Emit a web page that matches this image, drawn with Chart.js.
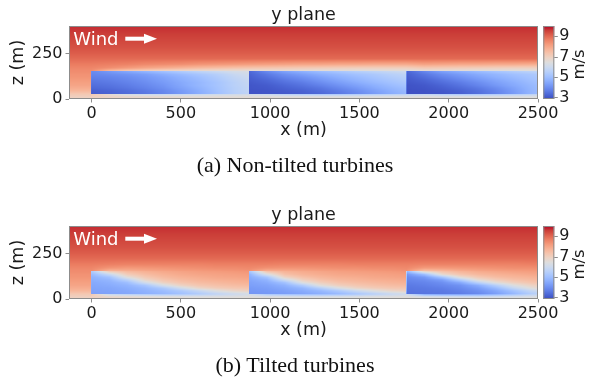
<!DOCTYPE html>
<html>
<head>
<meta charset="utf-8">
<script src="https://cdn.jsdelivr.net/npm/chart.js@4.4.0/dist/chart.umd.min.js"></script>
<style>
  html, body { margin: 0; padding: 0; background: #fff; width: 590px; height: 379px; overflow: hidden; position: relative; }
  canvas { position: absolute; left: 0; }
  #panelA { top: 0; }
  #panelB { top: 200px; }
  .caption { position: absolute; left: 0; width: 590px; text-align: center;
             font-family: "Liberation Serif", "Times New Roman", serif; font-size: 22px; line-height: 22px; color: #111; }
</style>
</head>
<body>
<canvas id="panelA" width="590" height="200"></canvas>
<canvas id="panelB" width="590" height="200"></canvas>
<div class="caption" style="top:154px">(a) Non-tilted turbines</div>
<div class="caption" style="top:354px">(b) Tilted turbines</div>
<script>
// Axis ranges and ticks
const xRange = [-126, 2500];          // streamwise position (m)
const zRange = [0, 400];              // height (m)
const speedRange = [2.85, 10.0];      // colour scale (m/s)
const xTicks = [0, 500, 1000, 1500, 2000, 2500];
const zTicks = [0, 250];
const speedTicks = [3, 5, 7, 9];

// Turbine positions along x (m)
const turbineX = [0, 882, 1764];

// Grid heights (m) shared by the inflow profile and the wake tables
const zRows = [0, 12, 26, 28, 45, 60, 75, 90, 105, 120, 135, 152, 154, 170, 190, 220, 250, 280, 310, 340, 370, 400];

// Undisturbed inflow speed at each height (m/s)
const inflow = [6.85, 7.0, 7.2, 7.25, 7.65, 7.85, 8.0, 8.1, 8.2, 8.3, 8.35, 8.45, 8.45, 8.55, 8.7, 8.95, 9.15, 9.3, 9.4, 9.5, 9.6, 9.7];

// Distance downstream of each turbine (m) for the wake table columns
const wakeDx = [0, 100, 200, 300, 400, 500, 600, 700, 800, 881];

// Wake speeds (m/s), rows = zRows[0..14], columns = wakeDx
// (a) non-tilted turbines
const wakeA1 = [
  [6.85, 6.8, 6.75, 6.7, 6.7, 6.65, 6.6, 6.6, 6.55, 6.55],
  [7.0, 6.9, 6.8, 6.75, 6.7, 6.65, 6.6, 6.6, 6.55, 6.55],
  [7.2, 6.6, 6.2, 6.0, 5.9, 5.9, 5.95, 6.0, 6.05, 6.1],
  [3.1, 3.2, 3.35, 3.55, 3.8, 4.15, 4.55, 5.0, 5.45, 5.7],
  [3.15, 3.25, 3.4, 3.6, 3.85, 4.2, 4.6, 5.05, 5.5, 5.75],
  [3.3, 3.4, 3.55, 3.75, 4.0, 4.35, 4.7, 5.1, 5.5, 5.75],
  [3.4, 3.5, 3.65, 3.85, 4.1, 4.45, 4.8, 5.15, 5.55, 5.8],
  [3.5, 3.6, 3.75, 3.95, 4.2, 4.5, 4.8, 5.15, 5.55, 5.85],
  [3.6, 3.7, 3.85, 4.05, 4.3, 4.6, 4.9, 5.25, 5.65, 5.9],
  [3.7, 3.8, 3.95, 4.15, 4.4, 4.7, 5.0, 5.35, 5.75, 6.0],
  [3.8, 3.95, 4.1, 4.3, 4.6, 4.9, 5.2, 5.5, 5.9, 6.1],
  [3.9, 4.2, 4.5, 4.8, 5.1, 5.4, 5.7, 5.95, 6.2, 6.3],
  [8.45, 7.6, 7.2, 7.0, 6.85, 6.75, 6.65, 6.6, 6.55, 6.55],
  [8.55, 8.4, 8.2, 8.0, 7.85, 7.7, 7.55, 7.45, 7.35, 7.3],
  [8.7, 8.65, 8.6, 8.5, 8.45, 8.4, 8.3, 8.25, 8.2, 8.15]
];
const wakeA2 = [
  [6.55, 6.55, 6.55, 6.55, 6.5, 6.5, 6.5, 6.5, 6.5, 6.5],
  [6.55, 6.55, 6.5, 6.5, 6.5, 6.45, 6.45, 6.45, 6.45, 6.45],
  [6.1, 5.9, 5.6, 5.4, 5.3, 5.3, 5.35, 5.45, 5.55, 5.65],
  [2.95, 3.0, 3.05, 3.15, 3.3, 3.55, 3.85, 4.2, 4.55, 4.8],
  [2.95, 3.0, 3.1, 3.2, 3.4, 3.65, 3.95, 4.3, 4.65, 4.9],
  [3.0, 3.05, 3.2, 3.35, 3.55, 3.85, 4.15, 4.5, 4.8, 5.0],
  [3.0, 3.1, 3.3, 3.5, 3.75, 4.05, 4.35, 4.65, 4.95, 5.15],
  [3.05, 3.2, 3.45, 3.65, 3.95, 4.25, 4.55, 4.85, 5.1, 5.3],
  [3.1, 3.3, 3.6, 3.85, 4.15, 4.45, 4.75, 5.0, 5.25, 5.45],
  [3.15, 3.45, 3.8, 4.05, 4.35, 4.65, 4.9, 5.15, 5.4, 5.55],
  [3.2, 3.6, 4.0, 4.3, 4.6, 4.85, 5.1, 5.3, 5.55, 5.7],
  [3.3, 3.9, 4.4, 4.7, 5.0, 5.25, 5.5, 5.7, 5.9, 6.05],
  [6.55, 6.6, 6.6, 6.55, 6.5, 6.5, 6.45, 6.45, 6.45, 6.45],
  [7.3, 7.25, 7.2, 7.15, 7.1, 7.05, 7.0, 7.0, 7.0, 7.0],
  [8.15, 8.1, 8.05, 8.0, 8.0, 7.95, 7.95, 7.9, 7.9, 7.9]
];
const wakeA3 = [
  [6.5, 6.55, 6.5, 6.5, 6.5, 6.5, 6.5, 6.5, 6.5, 6.5],
  [6.45, 6.5, 6.45, 6.45, 6.4, 6.4, 6.4, 6.4, 6.4, 6.4],
  [5.65, 5.8, 5.5, 5.3, 5.3, 5.35, 5.45, 5.6, 5.75, 5.85],
  [2.9, 2.95, 3.0, 3.15, 3.4, 3.75, 4.2, 4.75, 5.15, 5.35],
  [2.9, 2.95, 3.05, 3.2, 3.45, 3.8, 4.25, 4.75, 5.15, 5.35],
  [2.95, 3.0, 3.15, 3.35, 3.6, 3.95, 4.35, 4.8, 5.15, 5.35],
  [2.95, 3.05, 3.25, 3.5, 3.8, 4.15, 4.5, 4.85, 5.15, 5.35],
  [3.0, 3.15, 3.4, 3.65, 3.95, 4.3, 4.6, 4.95, 5.2, 5.4],
  [3.05, 3.25, 3.55, 3.85, 4.15, 4.45, 4.75, 5.05, 5.3, 5.45],
  [3.1, 3.4, 3.75, 4.05, 4.35, 4.65, 4.9, 5.15, 5.4, 5.55],
  [3.15, 3.55, 3.95, 4.25, 4.55, 4.8, 5.05, 5.25, 5.5, 5.65],
  [3.25, 3.85, 4.35, 4.65, 4.95, 5.2, 5.45, 5.65, 5.85, 6.0],
  [6.45, 6.55, 6.55, 6.5, 6.45, 6.45, 6.4, 6.4, 6.4, 6.4],
  [7.0, 7.2, 7.15, 7.1, 7.05, 7.0, 6.95, 6.95, 6.95, 6.95],
  [7.9, 8.05, 8.0, 7.95, 7.95, 7.9, 7.9, 7.85, 7.85, 7.85]
];
// (b) tilted turbines
const wakeB1 = [
  [6.85, 6.8, 6.75, 6.7, 6.7, 6.65, 6.6, 6.6, 6.6, 6.6],
  [7.0, 6.8, 6.7, 6.6, 6.5, 6.45, 6.4, 6.4, 6.4, 6.45],
  [7.2, 5.9, 5.6, 5.4, 5.3, 5.35, 5.5, 5.75, 6.0, 6.2],
  [4.3, 4.35, 4.45, 4.6, 4.8, 5.05, 5.35, 5.7, 6.0, 6.2],
  [4.35, 4.4, 4.5, 4.7, 4.95, 5.3, 5.8, 6.4, 6.8, 6.95],
  [4.4, 4.45, 4.6, 4.85, 5.3, 6.1, 6.8, 7.1, 7.25, 7.3],
  [4.45, 4.55, 4.75, 5.2, 6.2, 6.9, 7.25, 7.4, 7.5, 7.55],
  [4.5, 4.65, 5.0, 6.1, 6.9, 7.3, 7.5, 7.6, 7.7, 7.75],
  [4.6, 4.8, 5.6, 6.8, 7.3, 7.55, 7.7, 7.8, 7.85, 7.9],
  [4.7, 5.1, 6.5, 7.2, 7.55, 7.75, 7.85, 7.95, 8.0, 8.05],
  [4.9, 5.9, 7.1, 7.5, 7.75, 7.9, 8.0, 8.05, 8.1, 8.15],
  [5.3, 7.2, 7.6, 7.8, 7.95, 8.05, 8.15, 8.2, 8.25, 8.3],
  [8.45, 7.7, 7.8, 7.95, 8.05, 8.15, 8.2, 8.25, 8.3, 8.35],
  [8.55, 8.3, 8.2, 8.25, 8.3, 8.35, 8.4, 8.45, 8.45, 8.5],
  [8.7, 8.65, 8.6, 8.6, 8.6, 8.6, 8.6, 8.65, 8.65, 8.65]
];
const wakeB2 = [
  [6.6, 6.6, 6.6, 6.55, 6.55, 6.55, 6.55, 6.55, 6.55, 6.55],
  [6.45, 6.4, 6.35, 6.3, 6.3, 6.3, 6.35, 6.4, 6.4, 6.45],
  [6.2, 5.3, 5.1, 5.0, 5.0, 5.1, 5.3, 5.6, 5.9, 6.1],
  [4.1, 4.15, 4.25, 4.4, 4.6, 4.85, 5.2, 5.55, 5.9, 6.1],
  [4.15, 4.2, 4.35, 4.55, 4.85, 5.3, 5.9, 6.4, 6.8, 6.95],
  [4.2, 4.3, 4.5, 4.8, 5.5, 6.3, 6.85, 7.1, 7.25, 7.3],
  [4.3, 4.4, 4.7, 5.4, 6.5, 7.0, 7.25, 7.4, 7.5, 7.55],
  [4.35, 4.55, 5.1, 6.4, 7.0, 7.35, 7.5, 7.6, 7.7, 7.75],
  [4.45, 4.75, 6.0, 7.0, 7.4, 7.6, 7.7, 7.8, 7.85, 7.9],
  [4.55, 5.2, 6.9, 7.4, 7.65, 7.8, 7.85, 7.95, 8.0, 8.05],
  [4.7, 6.3, 7.4, 7.7, 7.85, 7.95, 8.0, 8.05, 8.1, 8.15],
  [5.2, 7.4, 7.75, 7.9, 8.0, 8.1, 8.15, 8.2, 8.25, 8.3],
  [8.35, 7.8, 7.9, 8.0, 8.1, 8.15, 8.2, 8.25, 8.3, 8.35],
  [8.5, 8.35, 8.3, 8.3, 8.35, 8.4, 8.4, 8.45, 8.45, 8.5],
  [8.65, 8.65, 8.6, 8.6, 8.6, 8.6, 8.65, 8.65, 8.65, 8.65]
];
const wakeB3 = [
  [6.55, 6.6, 6.6, 6.55, 6.5, 6.5, 6.5, 6.5, 6.5, 6.5],
  [6.45, 6.3, 6.2, 6.1, 6.05, 6.1, 6.2, 6.3, 6.4, 6.45],
  [6.1, 4.6, 4.4, 4.35, 4.4, 4.7, 5.1, 5.6, 5.9, 6.05],
  [3.45, 3.5, 3.55, 3.65, 3.85, 4.25, 4.8, 5.4, 5.8, 6.0],
  [3.5, 3.55, 3.6, 3.75, 4.0, 4.45, 5.1, 5.8, 6.3, 6.5],
  [3.55, 3.6, 3.7, 3.9, 4.25, 4.9, 5.8, 6.5, 6.9, 7.05],
  [3.6, 3.7, 3.85, 4.05, 4.6, 5.5, 6.4, 6.9, 7.15, 7.3],
  [3.7, 3.8, 4.0, 4.5, 5.6, 6.5, 7.0, 7.3, 7.45, 7.55],
  [3.8, 3.95, 4.3, 5.4, 6.6, 7.1, 7.4, 7.55, 7.65, 7.75],
  [3.9, 4.2, 5.2, 6.6, 7.2, 7.5, 7.65, 7.75, 7.85, 7.9],
  [4.1, 5.0, 6.7, 7.3, 7.6, 7.75, 7.85, 7.95, 8.0, 8.05],
  [4.8, 6.9, 7.4, 7.7, 7.9, 8.0, 8.1, 8.15, 8.2, 8.25],
  [8.35, 7.4, 7.6, 7.85, 8.0, 8.1, 8.15, 8.2, 8.25, 8.3],
  [8.5, 8.2, 8.2, 8.25, 8.3, 8.35, 8.4, 8.4, 8.45, 8.5],
  [8.65, 8.6, 8.6, 8.6, 8.6, 8.6, 8.6, 8.65, 8.65, 8.65]
];

// Diverging blue-white-red colour map, 17 evenly spaced stops
const coolwarm = [
  [59, 76, 192], [77, 104, 215], [98, 130, 234], [119, 154, 247], [141, 176, 254],
  [163, 194, 255], [184, 208, 249], [204, 217, 238], [221, 221, 221], [236, 211, 197],
  [245, 196, 173], [247, 177, 148], [244, 154, 123], [236, 127, 99], [222, 96, 77],
  [203, 62, 56], [180, 4, 38]
];

const TICK_FONT = { family: 'DejaVu Sans', size: 16, weight: 'normal' };
const LABEL_FONT = { family: 'DejaVu Sans', size: 17.5, weight: 'normal', lineHeight: 1 };
const TEXT = '#1a1a1a';
const SPINE = '#8c8c8c';

function colourFor(v) {
  let t = (v - speedRange[0]) / (speedRange[1] - speedRange[0]);
  t = Math.min(1, Math.max(0, t));
  const p = t * (coolwarm.length - 1);
  const i = Math.min(coolwarm.length - 2, Math.floor(p));
  const f = p - i;
  const a = coolwarm[i], b = coolwarm[i + 1];
  return [a[0] + (b[0] - a[0]) * f, a[1] + (b[1] - a[1]) * f, a[2] + (b[2] - a[2]) * f];
}

// Assemble a rectilinear grid: upstream columns use the inflow profile,
// every turbine contributes one column per wakeDx entry.
function buildField(wakes) {
  const xs = [xRange[0], -1];
  const cols = [inflow.slice(), inflow.slice()];
  turbineX.forEach((tx, k) => {
    wakeDx.forEach((dx, c) => {
      xs.push(tx + dx);
      cols.push(zRows.map((z, r) => (r < wakes[k].length ? wakes[k][r][c] : inflow[r])));
    });
  });
  return { xs, cols };
}

function locate(arr, v) {
  let i = 0;
  while (i < arr.length - 2 && v > arr[i + 1]) i++;
  const f = (v - arr[i]) / (arr[i + 1] - arr[i]);
  return [i, Math.max(0, Math.min(1, f))];
}

function sample(field, x, z) {
  const [i, fx] = locate(field.xs, x);
  const [j, fz] = locate(zRows, z);
  const c0 = field.cols[i], c1 = field.cols[i + 1];
  const a = c0[j] + (c0[j + 1] - c0[j]) * fz;
  const b = c1[j] + (c1[j + 1] - c1[j]) * fz;
  return a + (b - a) * fx;
}

function fieldPlugin(field) {
  return {
    id: 'speedField',
    beforeDatasetsDraw(chart) {
      const { ctx, chartArea } = chart;
      const { left, top, right, bottom } = chartArea;
      const xs = chart.scales.x, ys = chart.scales.y;
      const x0 = Math.floor(left), y0 = Math.floor(top);
      const w = Math.ceil(right) - x0, h = Math.ceil(bottom) - y0;
      const off = document.createElement('canvas');
      off.width = w; off.height = h;
      const octx = off.getContext('2d');
      const img = octx.createImageData(w, h);
      const zVals = [];
      for (let j = 0; j < h; j++) zVals.push(ys.getValueForPixel(y0 + j + 0.5));
      for (let i = 0; i < w; i++) {
        const xv = xs.getValueForPixel(x0 + i + 0.5);
        for (let j = 0; j < h; j++) {
          const c = colourFor(sample(field, xv, zVals[j]));
          const k = (j * w + i) * 4;
          img.data[k] = c[0]; img.data[k + 1] = c[1]; img.data[k + 2] = c[2]; img.data[k + 3] = 255;
        }
      }
      octx.putImageData(img, 0, 0);
      ctx.save();
      ctx.beginPath();
      ctx.rect(left, top, right - left, bottom - top);
      ctx.clip();
      ctx.drawImage(off, x0, y0);
      ctx.restore();
    },
    afterDatasetsDraw(chart) {
      const { ctx, chartArea } = chart;
      const { left, top, right, bottom } = chartArea;
      ctx.save();
      // plot frame
      ctx.strokeStyle = SPINE;
      ctx.lineWidth = 1;
      ctx.strokeRect(left + 0.5, top + 0.5, right - left - 1, bottom - top - 1);

      // wind direction label
      ctx.fillStyle = '#ffffff';
      ctx.font = '18px "DejaVu Sans"';
      ctx.textAlign = 'left';
      ctx.textBaseline = 'alphabetic';
      ctx.fillText('Wind', left + 4.3, top + 19.3);
      const ay = top + 12.7;
      ctx.fillRect(left + 56.3, ay - 2, 20, 4);
      ctx.beginPath();
      ctx.moveTo(left + 75, ay - 5);
      ctx.lineTo(left + 88, ay);
      ctx.lineTo(left + 75, ay + 5);
      ctx.closePath();
      ctx.fill();

      // colour bar
      const cb = chart.scales.cb;
      const bx = right + 5.3, bw = 11;
      const yTop = cb.getPixelForValue(speedRange[1]);
      const yBot = cb.getPixelForValue(speedRange[0]);
      const g = ctx.createLinearGradient(0, yBot, 0, yTop);
      coolwarm.forEach((c, k) => {
        const v = speedRange[0] + (k / (coolwarm.length - 1)) * (speedRange[1] - speedRange[0]);
        const f = (yBot - cb.getPixelForValue(v)) / (yBot - yTop);
        g.addColorStop(Math.max(0, Math.min(1, f)), `rgb(${c[0]},${c[1]},${c[2]})`);
      });
      ctx.fillStyle = g;
      ctx.fillRect(bx, yTop, bw, yBot - yTop);
      ctx.strokeStyle = SPINE;
      ctx.strokeRect(bx + 0.5, yTop + 0.5, bw - 1, yBot - yTop - 1);
      ctx.beginPath();
      speedTicks.forEach(v => {
        const y = Math.round(cb.getPixelForValue(v)) + 0.5;
        ctx.moveTo(bx + bw, y);
        ctx.lineTo(bx + bw + 3.5, y);
      });
      ctx.stroke();

      // colour bar label
      ctx.fillStyle = TEXT;
      ctx.font = '16.5px "DejaVu Sans"';
      ctx.textAlign = 'center';
      ctx.textBaseline = 'middle';
      ctx.translate(580, (yTop + yBot) / 2 + 2);
      ctx.rotate(-Math.PI / 2);
      ctx.fillText('m/s', 0, 0);
      ctx.restore();
    }
  };
}

function makePanel(canvasId, wakes) {
  const canvas = document.getElementById(canvasId);
  const H = canvas.height;
  return new Chart(canvas, {
    type: 'scatter',
    data: { datasets: [] },
    options: {
      responsive: false,
      animation: false,
      events: [],
      layout: { padding: 0 },
      plugins: {
        legend: { display: false },
        tooltip: { enabled: false },
        title: {
          display: true, text: 'y plane', fullSize: false, color: TEXT,
          font: LABEL_FONT, padding: { top: 7, bottom: 1.5 }
        }
      },
      scales: {
        x: {
          type: 'linear', position: 'bottom', min: xRange[0], max: xRange[1],
          afterBuildTicks: s => { s.ticks = xTicks.map(v => ({ value: v })); },
          afterFit: s => { s.height = H - 99; },
          grid: { drawOnChartArea: false, tickLength: 3.5, tickColor: SPINE },
          border: { display: false },
          ticks: { color: TEXT, font: TICK_FONT, padding: 2, maxRotation: 0, autoSkip: false, callback: v => String(v) },
          title: { display: true, text: 'x (m)', color: TEXT, font: LABEL_FONT, padding: { top: 0, bottom: 60.5 } }
        },
        y: {
          type: 'linear', position: 'left', min: zRange[0], max: zRange[1],
          afterBuildTicks: s => { s.ticks = zTicks.map(v => ({ value: v })); },
          afterFit: s => { s.width = 69; },
          grid: { drawOnChartArea: false, tickLength: 3.5, tickColor: SPINE },
          border: { display: false },
          ticks: { color: TEXT, font: TICK_FONT, padding: 3, callback: v => String(v) },
          title: { display: true, text: 'z (m)', color: TEXT, font: LABEL_FONT, padding: { top: 9.5, bottom: 0 } }
        },
        cb: {
          type: 'linear', position: 'right', axis: 'y', min: speedRange[0], max: speedRange[1],
          afterBuildTicks: s => { s.ticks = speedTicks.map(v => ({ value: v })); },
          afterFit: s => { s.width = 52; },
          grid: { drawOnChartArea: false, tickLength: 19, tickColor: 'rgba(0,0,0,0)' },
          border: { display: false },
          ticks: { color: TEXT, font: TICK_FONT, padding: 2.3, callback: v => String(v) }
        }
      }
    },
    plugins: [fieldPlugin(buildField(wakes))]
  });
}

makePanel('panelA', [wakeA1, wakeA2, wakeA3]);
makePanel('panelB', [wakeB1, wakeB2, wakeB3]);
</script>
</body>
</html>
